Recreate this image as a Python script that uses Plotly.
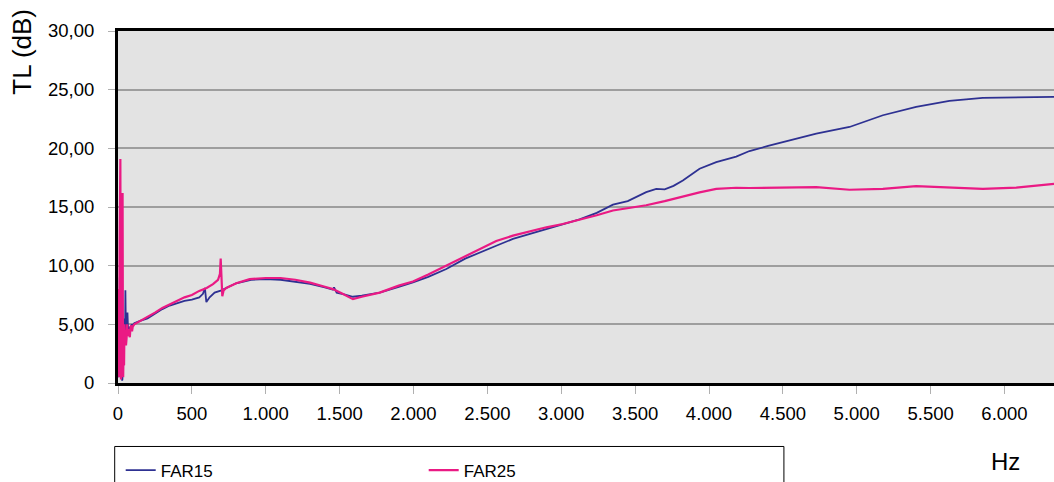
import plotly.graph_objects as go

# ---- data ----
freq15 = [0, 3, 6, 9, 12, 15, 18, 21, 23, 25, 28, 30, 33, 36, 40, 44, 48, 50, 53, 57, 61, 64, 68, 72, 78, 85, 92,
          100, 110, 125, 150, 200, 250, 300, 350, 400, 450, 500, 550, 575, 588, 598, 620, 654, 700, 750, 800, 900,
          1000, 1100, 1200, 1300, 1400, 1455, 1462, 1480, 1530, 1590, 1650, 1771, 1900, 1996, 2100, 2222, 2350,
          2447, 2560, 2673, 2790, 2899, 3010, 3124, 3240, 3350, 3450, 3575, 3643, 3700, 3760, 3823, 3936, 4049,
          4184, 4274, 4400, 4500, 4726, 4951, 5177, 5402, 5627, 5853, 6079, 6335]
tl15 = [2.0, 0.5, 6.0, 1.0, 9.0, 3.0, 12.0, 15.1, 14.0, 2.0, 0.2, 0.3, 5.0, 1.5, 3.8, 5.5, 4.0, 7.9, 4.8, 4.4,
        5.2, 6.0, 4.5, 4.3, 4.8, 4.6, 5.0, 4.9, 5.1, 5.2, 5.3, 5.5, 5.9, 6.3, 6.6, 6.8, 7.0, 7.1, 7.3, 7.6, 8.1,
        6.9, 7.3, 7.7, 7.9, 8.2, 8.5, 8.8, 8.85, 8.8, 8.65, 8.45, 8.15, 7.95, 8.15, 7.7, 7.55, 7.35, 7.45, 7.7,
        8.2, 8.57, 9.05, 9.72, 10.6, 11.14, 11.7, 12.28, 12.7, 13.13, 13.5, 13.95, 14.5, 15.2, 15.5, 16.27,
        16.55, 16.5, 16.8, 17.26, 18.26, 18.83, 19.3, 19.77, 20.2, 20.54, 21.25, 21.82, 22.82, 23.53, 24.05,
        24.3, 24.32, 24.38]

freq25 = [0, 2, 5, 8, 11, 14, 16, 18, 20, 23, 26, 29, 31, 33, 35, 38, 41, 44, 47, 50, 54, 58, 62, 66, 70, 75, 80,
          85, 90, 95, 100, 110, 125, 150, 200, 250, 300, 350, 400, 450, 500, 550, 600, 643, 677, 690, 695, 700,
          706, 715, 733, 800, 891, 1000, 1100, 1200, 1300, 1400, 1455, 1520, 1590, 1650, 1771, 1900, 1996, 2100,
          2222, 2350, 2447, 2560, 2673, 2790, 2899, 3010, 3124, 3240, 3350, 3450, 3575, 3700, 3800, 3936, 4049,
          4184, 4274, 4500, 4726, 4951, 5177, 5402, 5627, 5853, 6079, 6200, 6335]
tl25 = [4.0, 1.0, 8.0, 0.5, 12.0, 19.1, 19.1, 6.0, 0.3, 4.0, 1.0, 16.2, 16.2, 5.0, 0.5, 3.0, 1.5, 5.0, 3.5, 4.5,
        3.2, 3.8, 5.0, 4.0, 4.6, 4.2, 3.9, 4.8, 4.9, 4.4, 4.8, 5.0, 5.1, 5.3, 5.6, 6.0, 6.4, 6.7, 7.0, 7.3, 7.5,
        7.85, 8.1, 8.43, 8.8, 9.3, 10.6, 8.5, 7.4, 7.9, 8.1, 8.5, 8.85, 8.95, 8.95, 8.8, 8.55, 8.2, 8.0, 7.6,
        7.15, 7.35, 7.7, 8.3, 8.65, 9.25, 10.0, 10.8, 11.4, 12.1, 12.56, 12.95, 13.27, 13.55, 13.9, 14.3, 14.7,
        14.9, 15.15, 15.5, 15.84, 16.25, 16.55, 16.64, 16.62, 16.64, 16.7, 16.47, 16.55, 16.78, 16.65, 16.55,
        16.65, 16.8, 16.98]

series_names = ["FAR15", "FAR25"]
x_tickvals = [0, 500, 1000, 1500, 2000, 2500, 3000, 3500, 4000, 4500, 5000, 5500, 6000]
x_ticktext = ["0", "500", "1.000", "1.500", "2.000", "2.500", "3.000", "3.500", "4.000", "4.500", "5.000",
              "5.500", "6.000"]
y_tickvals = [0, 5, 10, 15, 20, 25, 30]
y_ticktext = ["0", "5,00", "10,00", "15,00", "20,00", "25,00", "30,00"]

FONT = "Liberation Sans, Arial, sans-serif"

fig = go.Figure()
fig.add_trace(go.Scatter(x=freq15, y=tl15, mode="lines", name=series_names[0],
                         line=dict(color="#2e3192", width=1.8)))
fig.add_trace(go.Scatter(x=freq25, y=tl25, mode="lines", name=series_names[1],
                         line=dict(color="#ea1a84", width=2.2)))

L, T = 118.3, 31
W, H = 1054, 482
PB = 382.6
pw, ph = W - L, PB - T

def px2px(x):
    return (x - L) / pw

def py2py(y):
    return (PB - y) / ph

fig.update_layout(
    width=W, height=H,
    margin=dict(l=L, r=0, t=T, b=H - PB, autoexpand=False),
    paper_bgcolor="white",
    plot_bgcolor="#e3e3e3",
    font=dict(family=FONT, color="black"),
    showlegend=True,
    legend=dict(orientation="h", x=px2px(121), xanchor="left", y=py2py(452), yanchor="top",
                font=dict(size=17, family=FONT), entrywidth=258, itemwidth=30,
                bgcolor="rgba(0,0,0,0)", borderwidth=0),
    xaxis=dict(range=[0, 6335], tickvals=x_tickvals, ticktext=x_ticktext,
               showgrid=False, zeroline=False, showline=True, linecolor="black", linewidth=3,
               mirror=True, ticks="outside", ticklen=8, tickcolor="#b0b0b0", tickwidth=1,
               tickfont=dict(size=18.5, family=FONT), ticklabelstandoff=4),
    yaxis=dict(range=[0, 30], tickvals=y_tickvals, ticktext=y_ticktext,
               showgrid=True, gridcolor="#9e9e9e", gridwidth=2, zeroline=False,
               showline=True, linecolor="black", linewidth=3, mirror=False,
               ticks="outside", ticklen=7, tickcolor="#b0b0b0", tickwidth=1,
               tickfont=dict(size=18.5, family=FONT), ticklabelstandoff=10),
    shapes=[dict(type="rect", xref="paper", yref="paper",
                 x0=px2px(115), x1=px2px(784), y0=py2py(446), y1=py2py(520),
                 line=dict(color="black", width=1), fillcolor="rgba(0,0,0,0)", layer="above")],
    annotations=[
        dict(text="TL (dB)", xref="paper", yref="paper", x=px2px(22), y=py2py(52),
             xanchor="center", yanchor="middle", textangle=-90, showarrow=False,
             font=dict(size=26, family=FONT)),
        dict(text="Hz", xref="paper", yref="paper", x=px2px(1006), y=py2py(461),
             xanchor="center", yanchor="middle", showarrow=False,
             font=dict(size=24, family=FONT)),
    ],
)

fig.write_html("out.html", config={"displayModeBar": False},
               post_script="document.body.style.margin='0';document.body.style.overflow='hidden';")
